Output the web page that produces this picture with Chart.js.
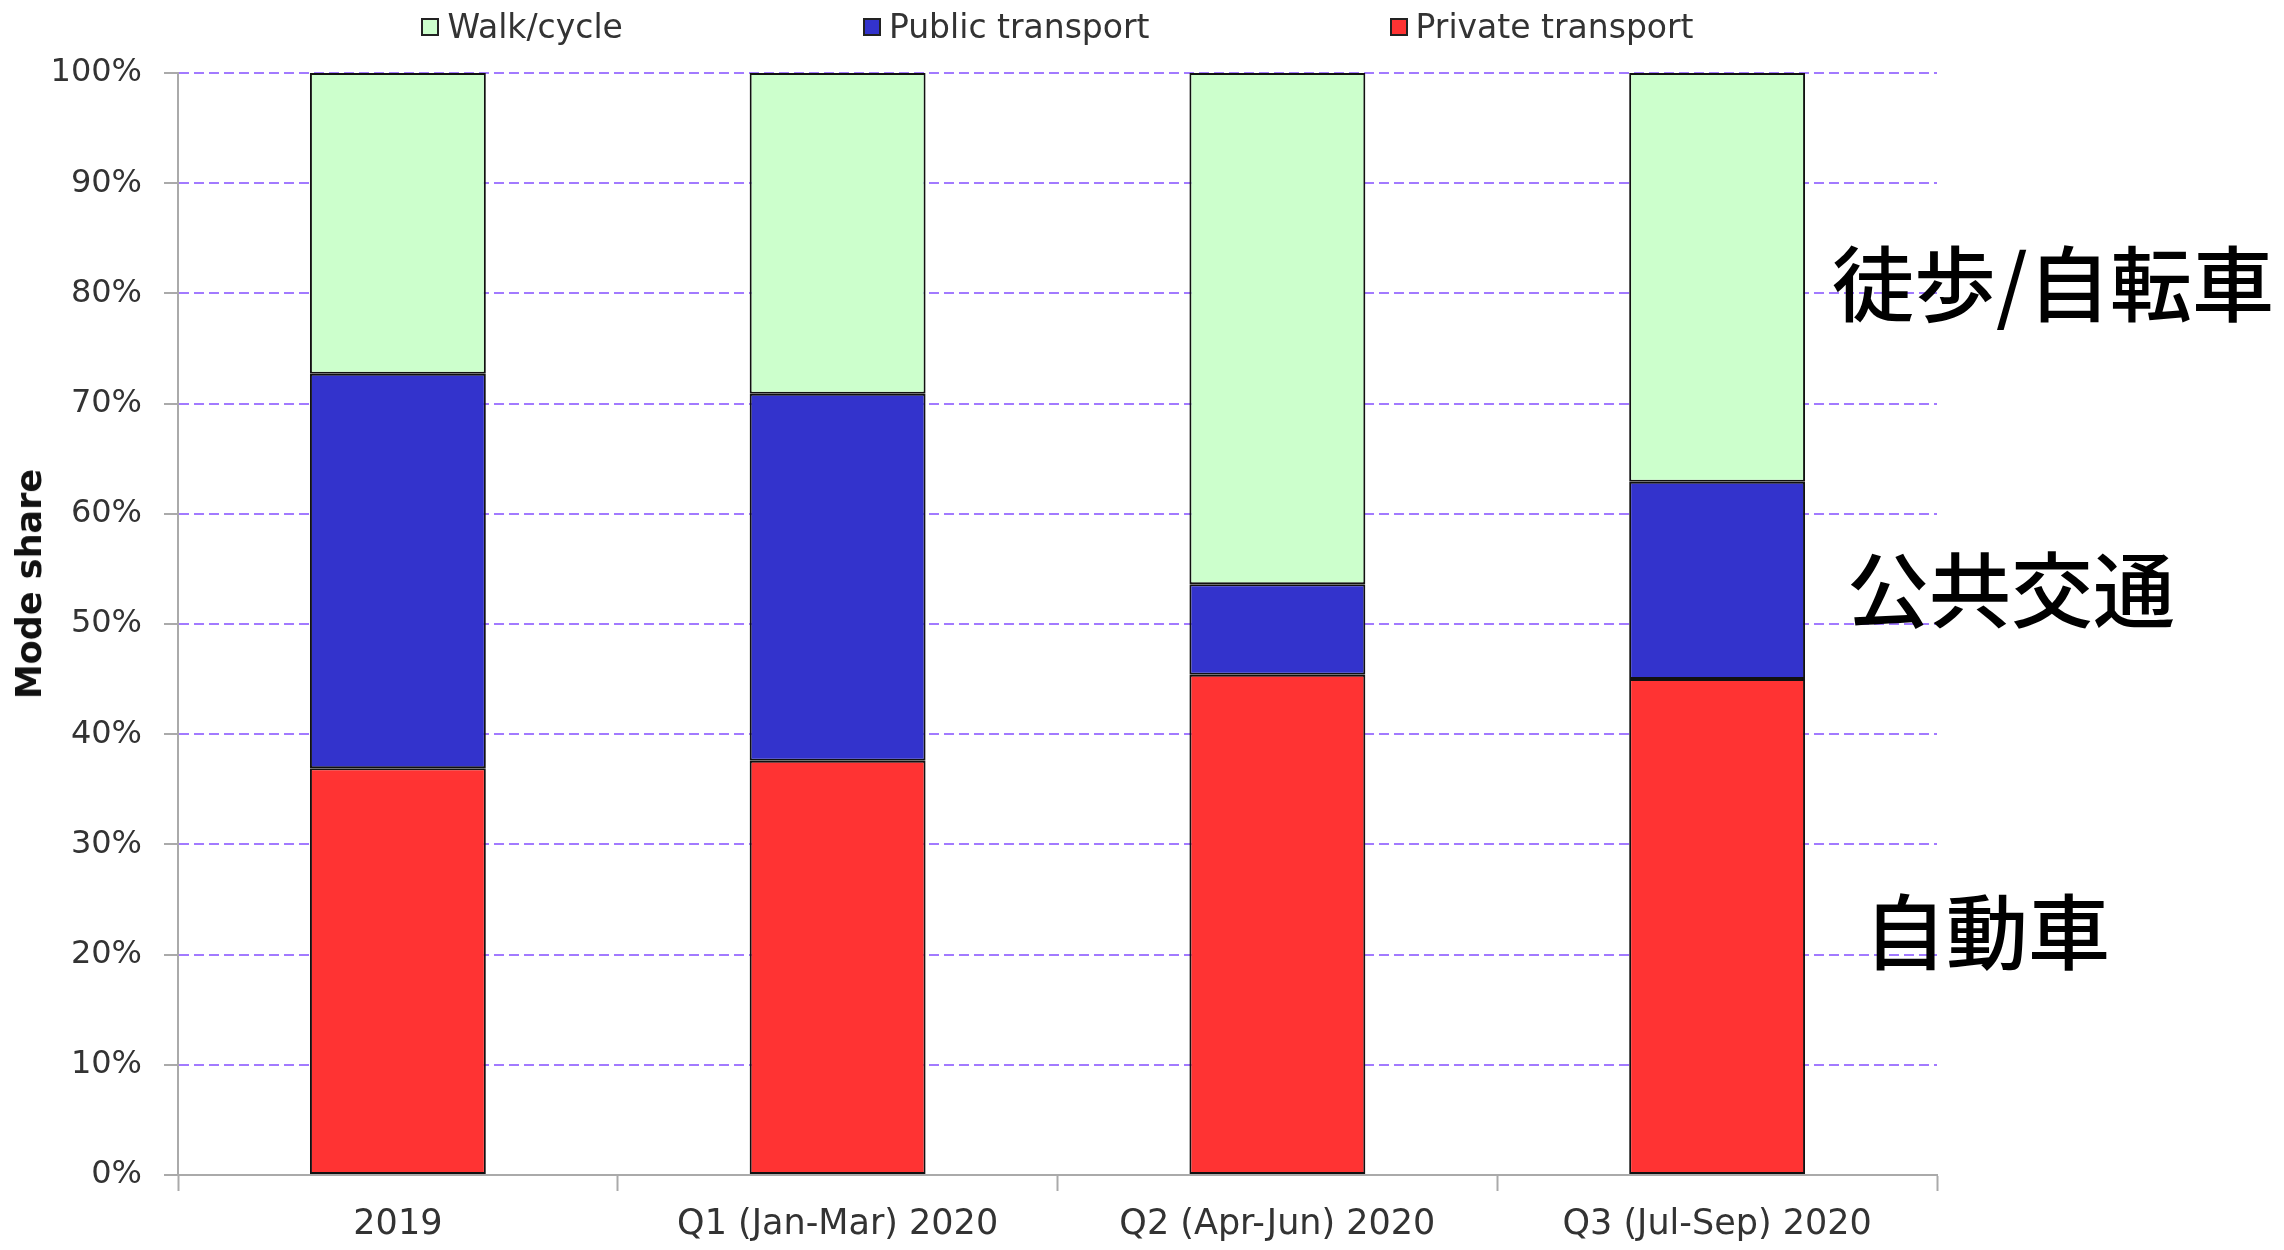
<!DOCTYPE html>
<html>
<head>
<meta charset="utf-8">
<title>Mode share</title>
<script src="https://cdn.jsdelivr.net/npm/chart.js@4.4.1/dist/chart.umd.min.js"></script>
<style>
  body { margin: 0; background: #fff; }
  #wrap { position: relative; width: 2284px; height: 1250px; }
  #legend { position: absolute; top: 7px; display: flex; justify-content: center; gap: 240px; font: 33px 'DejaVu Sans', sans-serif; color: #333; white-space: nowrap; }
  .item { display: flex; align-items: center; }
  .box { width: 14px; height: 14px; border: 2px solid #222; margin-right: 8px; }
  .note { position: absolute; font: 500 82px 'Noto Sans CJK JP', sans-serif; line-height: 82px; color: #000; white-space: nowrap; }
  #ytitle { position: absolute; left: 29px; top: 584px; transform: translate(-50%, -50%) rotate(-90deg); font: bold 35px 'DejaVu Sans', sans-serif; color: #111; white-space: nowrap; }
</style>
</head>
<body>
<div id="wrap">
  <canvas id="chart"></canvas>
  <div id="legend"></div>
  <div id="ytitle">Mode share</div>
  <div class="note" style="left:1832px; top:239px">徒歩/自転車</div>
  <div class="note" style="left:1847px; top:545px">公共交通</div>
  <div class="note" style="left:1864px; top:887px">自動車</div>
</div>
<script>
const categories = ['2019', 'Q1 (Jan-Mar) 2020', 'Q2 (Apr-Jun) 2020', 'Q3 (Jul-Sep) 2020'];
const privateShare = [36.9, 37.6, 45.4, 45.0];
const publicShare = [35.8, 33.3, 8.2, 17.9];
const walkShare = [27.3, 29.1, 46.4, 37.1];

const gridPurple = '#A27AFF';
const axisGrey = '#aaa';

const ctx = document.getElementById('chart').getContext('2d');
const chart = new Chart(ctx, {
    type: 'bar',
    data: {
        labels: categories,
        datasets: [
            { label: 'Private transport', data: privateShare, backgroundColor: '#FF3333' },
            { label: 'Public transport', data: publicShare, backgroundColor: '#3333CC' },
            { label: 'Walk/cycle', data: walkShare, backgroundColor: '#CCFFCC' }
        ]
    },
    options: {
        responsive: true,
        maintainAspectRatio: false,
        animation: false,
        layout: { padding: { top: 73, right: 347, bottom: 0, left: 8 } },
        datasets: {
            bar: {
                borderColor: '#111',
                borderWidth: 2,
                borderSkipped: false,
                categoryPercentage: 1,
                barPercentage: 0.4
            }
        },
        plugins: {
            legend: { display: false },
            tooltip: { enabled: false }
        },
        scales: {
            x: {
                stacked: true,
                grid: { offset: true, drawOnChartArea: false, tickLength: 16, tickColor: axisGrey, tickWidth: 2 },
                border: { color: axisGrey, width: 2 },
                ticks: { padding: 13, color: '#333', font: { family: 'DejaVu Sans', size: 35 } },
                afterFit: s => { s.height = 75; }
            },
            y: {
                stacked: true,
                min: 0,
                max: 100,
                ticks: {
                    stepSize: 10,
                    callback: v => v + '%',
                    padding: 22,
                    color: '#333',
                    font: { family: 'DejaVu Sans', size: 32 }
                },
                grid: {
                    color: c => c.tick && c.tick.value === 0 ? 'rgba(0,0,0,0)' : gridPurple,
                    lineWidth: 2,
                    tickColor: axisGrey,
                    tickBorderDash: [],
                    tickLength: 14,
                    tickWidth: 2
                },
                border: { color: axisGrey, width: 2, dash: [10, 5] },
                afterFit: s => { s.width = 170; }
            }
        }
    }
});

// legend in html so the wide gaps match the original
const legend = document.getElementById('legend');
const area = chart.chartArea;
legend.style.left = area.left + 'px';
legend.style.width = (area.right - area.left) + 'px';
legend.innerHTML = chart.data.datasets.slice().reverse().map(ds => `
    <div class="item"><span class="box" style="background:${ds.backgroundColor}"></span>${ds.label}</div>
`).join('');
</script>
</body>
</html>
